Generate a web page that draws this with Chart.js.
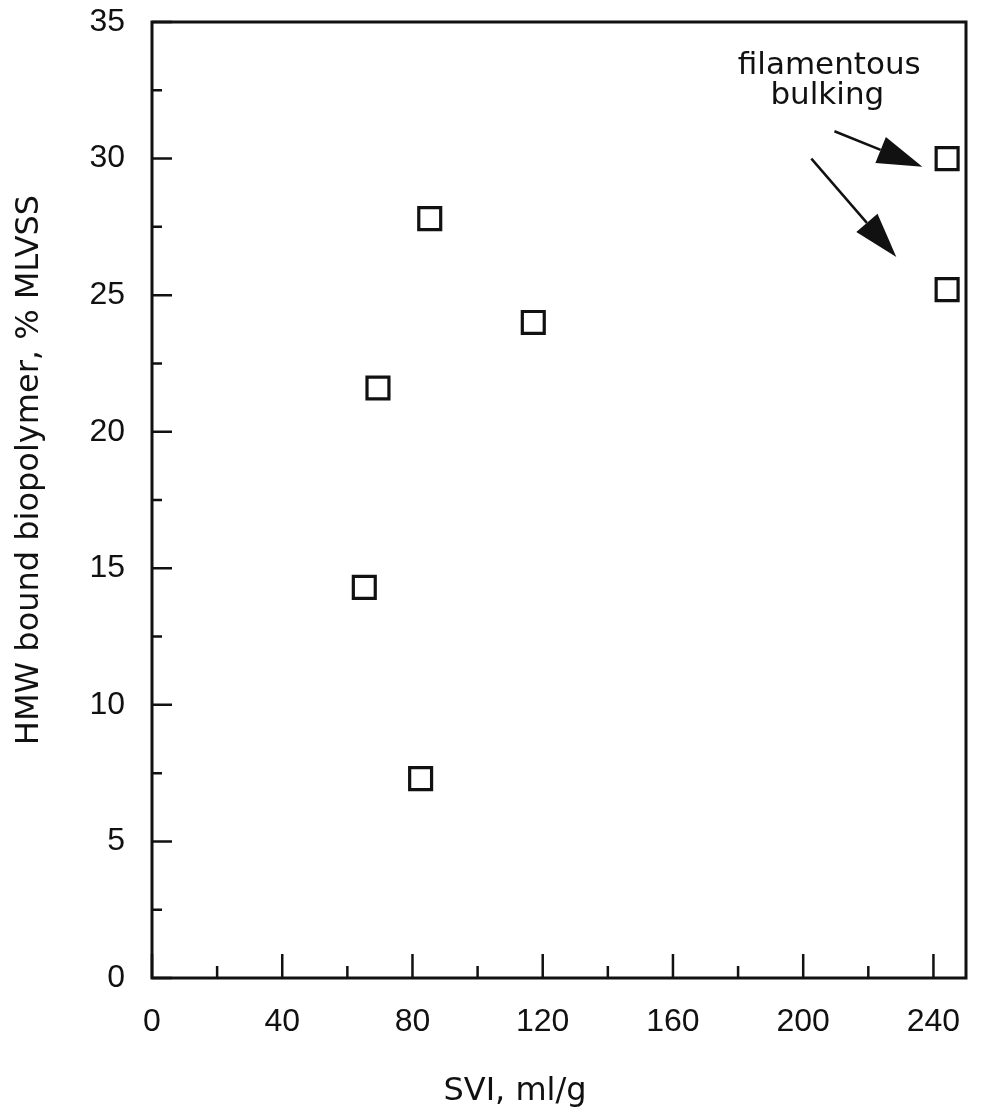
<!DOCTYPE html>
<html>
<head>
<meta charset="utf-8">
<script src="https://cdn.jsdelivr.net/npm/chart.js@4.4.1/dist/chart.umd.min.js"></script>
<style>
  body { margin: 0; background: #fff; }
  .chart-box { width: 1002px; height: 1114px; }
</style>
</head>
<body>
<div class="chart-box"><canvas id="chart"></canvas></div>
<script>
// SVI (ml/g) vs HMW bound biopolymer (% MLVSS)
const svi = [65.2, 69.4, 82.5, 85.3, 117.1, 244.2, 244.2];
const hmw = [14.3, 21.6, 7.3, 27.8, 24.0, 30.0, 25.2];

const xTicks = [0, 20, 40, 60, 80, 100, 120, 140, 160, 180, 200, 220, 240];
const yTicks = [0, 2.5, 5, 7.5, 10, 12.5, 15, 17.5, 20, 22.5, 25, 27.5, 30, 32.5, 35];

// annotation, in data units (text baseline / arrow tail and tip)
const noteLines = ['filamentous', 'bulking'];
const noteAt = [[208, 33.1], [207.4, 31.98]];
const arrowFrom = [[209.6, 31.0], [202.5, 30.0]];
const arrowTo = [[236.6, 29.7], [228.6, 26.4]];

const tickFont = { family: 'Liberation Sans', size: 32 };

const frameAndTicks = {
  id: 'frameAndTicks',
  afterDraw(chart) {
    const { ctx, chartArea: a } = chart;
    const x = chart.scales.x;
    const y = chart.scales.y;
    ctx.save();
    ctx.strokeStyle = '#111';
    ctx.lineWidth = 3;
    ctx.strokeRect(a.left, a.top, a.right - a.left, a.bottom - a.top);

    // ticks point inwards
    ctx.lineWidth = 2.5;
    ctx.beginPath();
    xTicks.forEach((v) => {
      const px = x.getPixelForValue(v);
      const len = v % 40 === 0 ? 24 : 12;
      ctx.moveTo(px, a.bottom);
      ctx.lineTo(px, a.bottom - len);
    });
    yTicks.forEach((v) => {
      const py = y.getPixelForValue(v);
      const len = v % 5 === 0 ? 20 : 10;
      ctx.moveTo(a.left, py);
      ctx.lineTo(a.left + len, py);
    });
    ctx.stroke();

    // axis titles
    ctx.fillStyle = '#111';
    ctx.font = '32px "DejaVu Sans"';
    ctx.textAlign = 'center';
    ctx.textBaseline = 'alphabetic';
    ctx.fillText('SVI, ml/g', 515, 1100);
    ctx.save();
    ctx.translate(38, 470);
    ctx.rotate(-Math.PI / 2);
    ctx.fillText('HMW bound biopolymer, % MLVSS', 0, 0);
    ctx.restore();

    // note text
    ctx.font = '31px "DejaVu Sans"';
    noteLines.forEach((t, i) => {
      ctx.fillText(t, x.getPixelForValue(noteAt[i][0]), y.getPixelForValue(noteAt[i][1]));
    });

    // arrows
    ctx.lineWidth = 2.5;
    arrowFrom.forEach((f, i) => {
      const x0 = x.getPixelForValue(f[0]);
      const y0 = y.getPixelForValue(f[1]);
      const x1 = x.getPixelForValue(arrowTo[i][0]);
      const y1 = y.getPixelForValue(arrowTo[i][1]);
      const ang = Math.atan2(y1 - y0, x1 - x0);
      const hl = 45;
      const hw = 14;
      const bx = x1 - hl * Math.cos(ang);
      const by = y1 - hl * Math.sin(ang);
      ctx.beginPath();
      ctx.moveTo(x0, y0);
      ctx.lineTo(bx, by);
      ctx.stroke();
      ctx.beginPath();
      ctx.moveTo(x1, y1);
      ctx.lineTo(bx + hw * Math.sin(ang), by - hw * Math.cos(ang));
      ctx.lineTo(bx - hw * Math.sin(ang), by + hw * Math.cos(ang));
      ctx.closePath();
      ctx.fill();
    });
    ctx.restore();
  },
};

new Chart(document.getElementById('chart'), {
  type: 'scatter',
  data: {
    datasets: [{
      data: svi.map((v, i) => ({ x: v, y: hmw[i] })),
      pointStyle: 'rect',
      pointRadius: 15.5,
      pointHoverRadius: 15.5,
      borderWidth: 3.2,
      borderColor: '#111',
      backgroundColor: 'rgba(0,0,0,0)',
    }],
  },
  options: {
    responsive: true,
    maintainAspectRatio: false,
    animation: false,
    events: [],
    layout: { padding: { top: 22, right: 36, left: 0, bottom: 0 } },
    plugins: { legend: { display: false }, tooltip: { enabled: false } },
    scales: {
      x: {
        type: 'linear',
        min: 0,
        max: 250,
        grid: { display: false, drawTicks: false },
        border: { display: false },
        afterBuildTicks: (scale) => { scale.ticks = xTicks.map((v) => ({ value: v })); },
        afterFit: (scale) => {
          scale.height = 136;
          scale.paddingLeft = 0;
          scale.paddingRight = 0;
        },
        ticks: {
          autoSkip: false,
          maxRotation: 0,
          padding: 25,
          color: '#111',
          font: tickFont,
          callback: (v) => (v % 40 === 0 ? v : ''),
        },
      },
      y: {
        type: 'linear',
        min: 0,
        max: 35,
        grid: { display: false, drawTicks: false },
        border: { display: false },
        afterBuildTicks: (scale) => { scale.ticks = yTicks.map((v) => ({ value: v })); },
        afterFit: (scale) => {
          scale.width = 152;
          scale.paddingTop = 0;
          scale.paddingBottom = 0;
        },
        ticks: {
          autoSkip: false,
          padding: 27,
          color: '#111',
          font: tickFont,
          callback: (v) => (v % 5 === 0 ? v : ''),
        },
      },
    },
  },
  plugins: [frameAndTicks],
});
</script>
</body>
</html>
